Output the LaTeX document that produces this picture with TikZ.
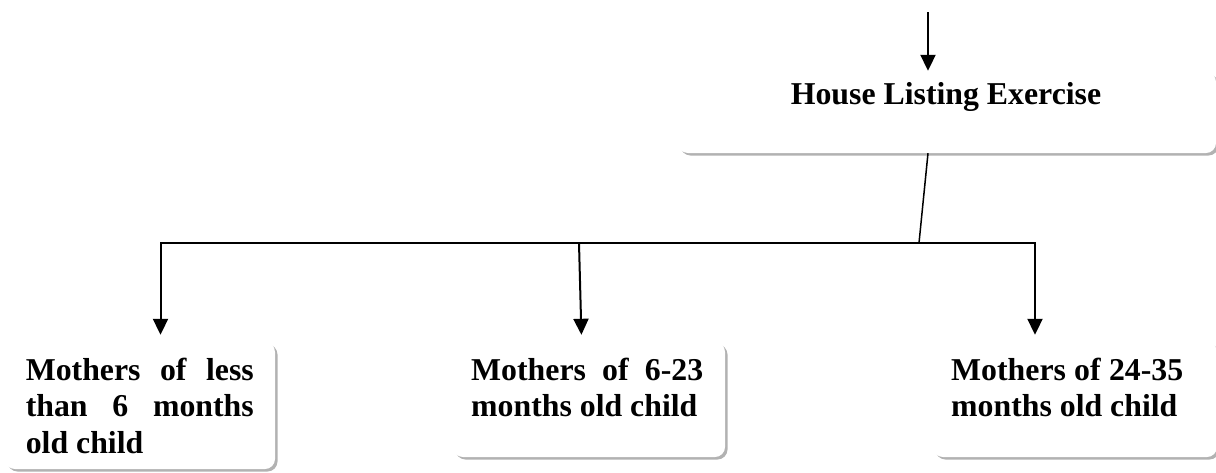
\documentclass[tikz,border=0pt]{standalone}
\usepackage{fontspec}
\setmainfont{Liberation Serif}
\usetikzlibrary{arrows.meta,shadows}
\begin{document}
\begin{tikzpicture}[x=1pt,y=-1pt,
  card/.style={draw=none, fill=white, rounded corners=10pt, inner sep=0pt,
    general shadow={fill=gray!60, shadow xshift=2.5pt, shadow yshift=-2.5pt}},
  arr/.style={line width=2pt, -{Triangle[length=16pt,width=15pt]}},
  conn/.style={line width=2pt, line cap=rect},
  slant/.style={line width=1.5pt},
  lbl/.style={inner sep=0pt, font=\fontsize{31.8}{36.5}\selectfont\bfseries}]
\useasboundingbox (0,0) rectangle (1216,472);
% boxes
\node[card, minimum width=538pt, minimum height=81pt] (top) at (947,112.5) {};
\node[card, minimum width=270pt, minimum height=127pt] (left) at (140,405.5) {};
\node[card, minimum width=272pt, minimum height=115pt] (mid) at (589,399.5) {};
\node[card, minimum width=284pt, minimum height=115pt] (right) at (1075,399.5) {};
% texts
\node[lbl, anchor=base] (tT) at (946,104) {House Listing Exercise};
\node[lbl, anchor=base west] (tL) at (25.6,380) {\parbox[t]{228pt}{\makebox[228pt][s]{Mothers of less}\\\makebox[228pt][s]{than 6 months}\\old child}};
\node[lbl, anchor=base west] (tM) at (471,380) {\parbox[t]{232pt}{\makebox[232pt][s]{Mothers of 6-23}\\months old child}};
\node[lbl, anchor=base west] (tR) at (951,380) {\parbox[t]{232pt}{\makebox[232pt][s]{Mothers of 24-35}\\months old child}};
% connectors
\coordinate (inT) at (928,12);
\coordinate (bJ) at (919,243);
\coordinate (bL) at (160.5,243);
\coordinate (bM) at (579,243);
\coordinate (bR) at (1035,243);
\draw[arr, shorten >=1pt] (inT) -- (inT |- top.north);
\draw[slant] (top.south -| inT) -- (bJ);
\draw[conn] (bL) -- (bR);
\draw[arr, shorten >=7pt] (bL) -- (bL |- left.north);
\draw[arr, shorten >=7pt] (bM) -- ([xshift=-7.4pt]mid.north);
\draw[arr, shorten >=7pt] (bR) -- (bR |- right.north);
\end{tikzpicture}
\end{document}
